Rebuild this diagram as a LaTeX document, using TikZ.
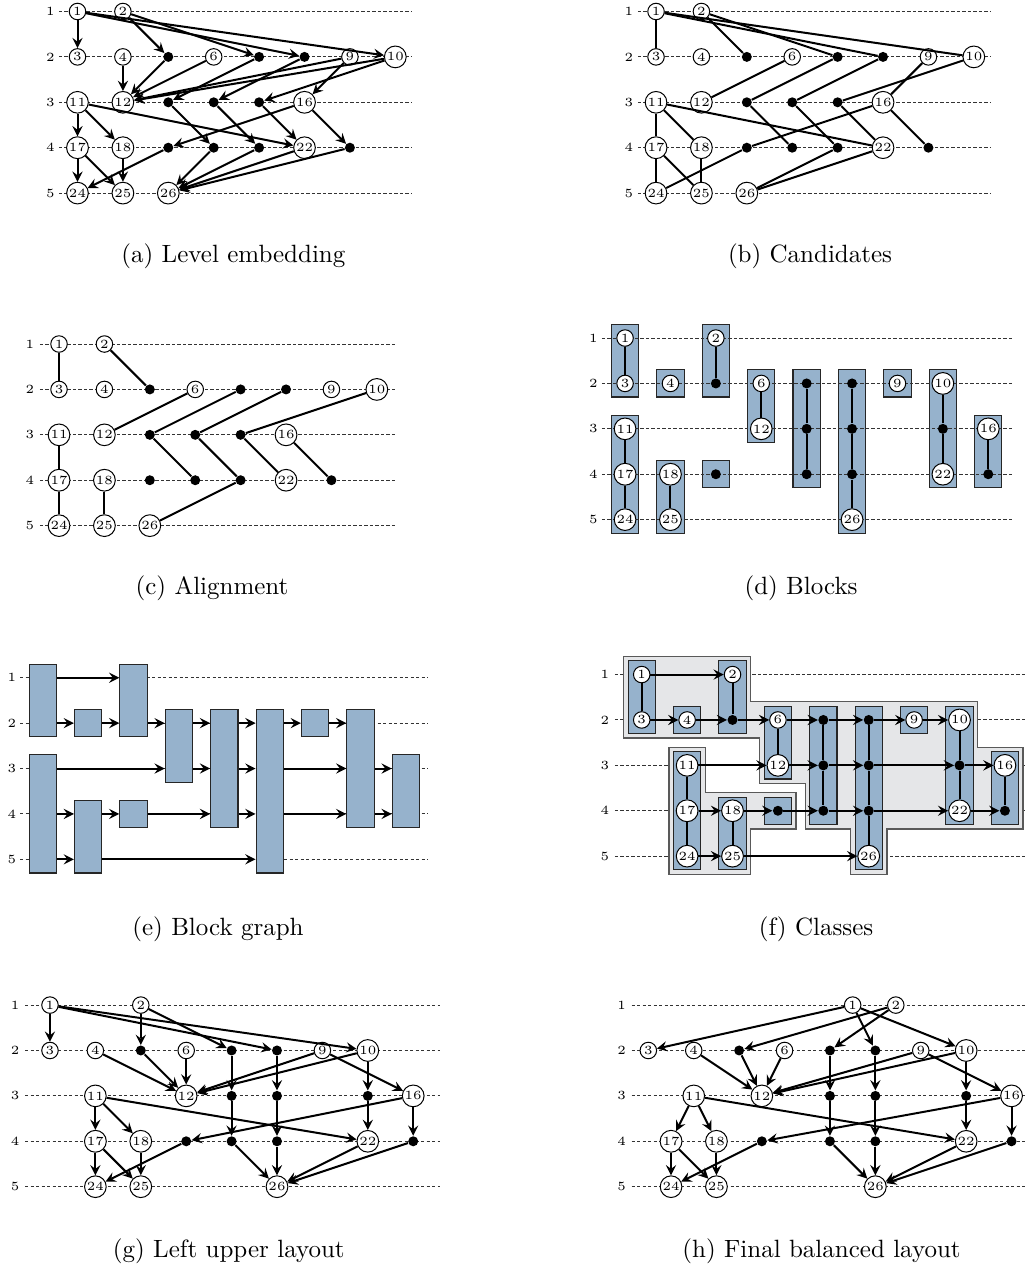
\documentclass[tikz,border=0pt]{standalone}
\usepackage{amsmath,amssymb}
\usetikzlibrary{arrows}

\definecolor{blockblue}{RGB}{150,178,204}
\definecolor{classgray}{RGB}{229,230,232}

\tikzset{
  vtx/.style={circle, draw, fill=white, line width=0.4pt, inner sep=0.4pt, minimum size=6.6pt, font=\tiny},
  dummy/.style={circle, fill=black, inner sep=0pt, minimum size=4pt},
  lvl/.style={font=\tiny, inner sep=0pt},
  lvlline/.style={black!80, line width=0.4pt, dash pattern=on 1.3pt off 0.9pt},
  edge/.style={line width=0.8pt},
  blockbox/.style={draw=black!85, fill=blockblue, line width=0.45pt, inner sep=0pt, minimum width=10.9pt},
  classbox/.style={draw=black!65, fill=classgray, line width=0.5pt},
  caption/.style={font=\normalsize, anchor=base}
}

% dashed level lines with their numbers
\newcommand{\levellines}[4]{%
  \foreach \lv in {1,...,5} {
    \draw[lvlline] (#3,\lv) -- (#4,\lv);
    \node[lvl] (#1L\lv) at (#2,\lv) {\lv};
  }}

% vertices and dummy vertices of one layout
\newcommand{\placenodes}[3]{%
  \foreach \nm/\cx/\lv in #2 \node[vtx] (#1\nm) at (\cx,\lv) {\nm};
  \foreach \nm/\cx/\lv in #3 \node[dummy] (#1\nm) at (\cx,\lv) {};}

% one block: name, column, top level, bottom level
\newcommand{\blockat}[4]{%
  \node[blockbox, minimum height={(#4-#3+0.6)*18.16pt}] (#1) at (#2,{(#3+#4)/2}) {};}

% positions
\newcommand{\embedreal}{1/0/1, 2/1/1, 3/0/2, 4/1/2, 6/3/2, 9/6/2, 10/7/2, 11/0/3, 12/1/3, 16/5/3, 17/0/4, 18/1/4, 22/5/4, 24/0/5, 25/1/5, 26/2/5}
\newcommand{\embeddummy}{A2/2/2, B2/4/2, C2/5/2, B3/2/3, C3/3/3, F3/4/3, G4/2/4, B4/3/4, C4/4/4, J4/6/4}
\newcommand{\blockreal}{1/0/1, 2/2/1, 3/0/2, 4/1/2, 6/3/2, 9/6/2, 10/7/2, 11/0/3, 12/3/3, 16/8/3, 17/0/4, 18/1/4, 22/7/4, 24/0/5, 25/1/5, 26/5/5}
\newcommand{\blockdummy}{A2/2/2, B2/4/2, C2/5/2, B3/4/3, C3/5/3, F3/7/3, G4/2/4, B4/4/4, C4/5/4, J4/8/4}
\newcommand{\classreal}{1/0/1, 2/2/1, 3/0/2, 4/1/2, 6/3/2, 9/6/2, 10/7/2, 11/1/3, 12/3/3, 16/8/3, 17/1/4, 18/2/4, 22/7/4, 24/1/5, 25/2/5, 26/5/5}
\newcommand{\classdummy}{A2/2/2, B2/4/2, C2/5/2, B3/4/3, C3/5/3, F3/7/3, G4/3/4, B4/4/4, C4/5/4, J4/8/4}
\newcommand{\finalreal}{1/4.5/1, 2/5.45/1, 3/0/2, 4/1/2, 6/3/2, 9/6/2, 10/7/2, 11/1/3, 12/2.5/3, 16/8/3, 17/0.5/4, 18/1.5/4, 22/7/4, 24/0.5/5, 25/1.5/5, 26/5/5}
\newcommand{\finaldummy}{A2/2/2, B2/4/2, C2/5/2, B3/4/3, C3/5/3, F3/7/3, G4/2.5/4, B4/4/4, C4/5/4, J4/8/4}

% edges
\newcommand{\alledges}{1/3, 1/C2, 1/10, 2/A2, 2/B2, A2/12, 4/12, 6/12, 9/12, 10/12, B2/B3, C2/C3, 10/F3, 9/16, 11/17, 11/18, 11/22, B3/B4, C3/C4, F3/22, 16/G4, 16/J4, 17/24, 17/25, 18/25, G4/24, B4/26, C4/26, 22/26, J4/26}
\newcommand{\candidates}{1/3, 1/C2, 1/10, 2/A2, 2/B2, 6/12, B2/B3, C2/C3, 10/F3, 9/16, 11/17, 11/18, 11/22, B3/B4, C3/C4, F3/22, 16/G4, 16/J4, 17/24, 17/25, 18/25, G4/24, C4/26, 22/26}
\newcommand{\alignedges}{1/3, 2/A2, 6/12, B2/B3, B3/B4, C2/C3, C3/C4, C4/26, 10/F3, F3/22, 16/J4, 11/17, 17/24, 18/25}
\newcommand{\chains}{1/2, 3/4, 4/A2, A2/6, 6/B2, B2/C2, C2/9, 9/10, 11/12, 12/B3, B3/C3, C3/F3, F3/16, 17/18, 18/G4, G4/B4, B4/C4, C4/22, 22/J4, 24/25, 25/26}

\begin{document}
\begin{tikzpicture}[x=18.16pt, y=-18.16pt, >=stealth]

    \useasboundingbox (0,0) rectangle (22.6,27.95);

    % (a) level embedding
    \begin{scope}[shift={(1.707,-0.747)}]
        \levellines{a}{-0.6}{-0.41}{7.37}
        \placenodes{a}{\embedreal}{\embeddummy}
        \foreach \src/\tgt in \alledges \draw[edge,->] (a\src) -- (a\tgt);
    \end{scope}

    % (b) candidates
    \begin{scope}[shift={(14.449,-0.747)}]
        \levellines{b}{-0.6}{-0.4}{7.38}
        \placenodes{b}{\embedreal}{\embeddummy}
        \foreach \src/\tgt in \candidates \draw[edge] (b\src) -- (b\tgt);
    \end{scope}

    % (c) alignment
    \begin{scope}[shift={(1.3,6.577)}]
        \levellines{c}{-0.64}{-0.42}{7.4}
        \placenodes{c}{\embedreal}{\embeddummy}
        \foreach \src/\tgt in \alignedges \draw[edge] (c\src) -- (c\tgt);
    \end{scope}

    % (d) blocks
    \begin{scope}[shift={(13.767,6.445)}]
        \foreach \nm/\cx/\lvtop/\lvbot in {1/0/1/2, 11/0/3/5, 4/1/2/2, 18/1/4/5, 2/2/1/2, G/2/4/4, 6/3/2/3, B/4/2/4, C/5/2/5, 9/6/2/2, 10/7/2/4, 16/8/3/4}
            {\blockat{dblk\nm}{\cx}{\lvtop}{\lvbot}}
        \levellines{d}{-0.7}{-0.51}{8.52}
        \placenodes{d}{\blockreal}{\blockdummy}
        \foreach \src/\tgt in \alignedges \draw[edge] (d\src) -- (d\tgt);
    \end{scope}

    % (e) block graph
    \begin{scope}[shift={(0.941,13.927)}]
        \levellines{e}{-0.68}{-0.5}{8.49}
        \foreach \nm/\cx/\lvtop/\lvbot in {1/0/1/2, 11/0/3/5, 4/1/2/2, 18/1/4/5, 2/2/1/2, G/2/4/4, 6/3/2/3, B/4/2/4, C/5/2/5, 9/6/2/2, 10/7/2/4, 16/8/3/4}
            {\blockat{eblk\nm}{\cx}{\lvtop}{\lvbot}}
        \foreach \src/\tgt/\lv in {1/2/1, 1/4/2, 4/2/2, 2/6/2, 6/B/2, B/C/2, C/9/2, 9/10/2,
                11/6/3, 6/B/3, B/C/3, C/10/3, 10/16/3,
                11/18/4, 18/G/4, G/B/4, B/C/4, C/10/4, 10/16/4,
                11/18/5, 18/C/5}
            \draw[edge,->] (eblk\src.east |- eL\lv) -- (eblk\tgt.west |- eL\lv);
    \end{scope}

    % (f) classes
    \begin{scope}[shift={(14.134,13.857)}]
        \levellines{f}{-0.81}{-0.59}{8.44}
        \draw[classbox] (-0.4,0.6) -- (2.4,0.6) -- (2.4,1.6) -- (7.4,1.6) -- (7.4,2.6) -- (8.4,2.6)
            -- (8.4,4.4) -- (5.4,4.4) -- (5.4,5.4) -- (4.6,5.4) -- (4.6,4.4) -- (3.6,4.4)
            -- (3.6,3.4) -- (2.6,3.4) -- (2.6,2.4) -- (-0.4,2.4) -- cycle;
        \draw[classbox] (0.6,2.6) -- (1.4,2.6) -- (1.4,3.6) -- (3.4,3.6) -- (3.4,4.4)
            -- (2.4,4.4) -- (2.4,5.4) -- (0.6,5.4) -- cycle;
        \foreach \nm/\cx/\lvtop/\lvbot in {1/0/1/2, 11/1/3/5, 4/1/2/2, 18/2/4/5, 2/2/1/2, G/3/4/4, 6/3/2/3, B/4/2/4, C/5/2/5, 9/6/2/2, 10/7/2/4, 16/8/3/4}
            {\blockat{fblk\nm}{\cx}{\lvtop}{\lvbot}}
        \placenodes{f}{\classreal}{\classdummy}
        \foreach \src/\tgt in \alignedges \draw[edge] (f\src) -- (f\tgt);
        \foreach \src/\tgt in \chains \draw[edge,->] (f\src) -- (f\tgt);
    \end{scope}

    % (g) left upper layout
    \begin{scope}[shift={(1.101,21.137)}]
        \levellines{g}{-0.77}{-0.55}{8.59}
        \placenodes{g}{\classreal}{\classdummy}
        \foreach \src/\tgt in \alledges \draw[edge,->] (g\src) -- (g\tgt);
    \end{scope}

    % (h) final balanced layout
    \begin{scope}[shift={(14.28,21.137)}]
        \levellines{h}{-0.59}{-0.37}{8.31}
        \placenodes{h}{\finalreal}{\finaldummy}
        \foreach \src/\tgt in \alledges \draw[edge,->] (h\src) -- (h\tgt);
    \end{scope}

    % sub-captions
    \node[caption] (capa) at (5.141,5.79) {(a) Level embedding};
    \node[caption] (capb) at (17.841,5.79) {(b) Candidates};
    \node[caption] (capc) at (4.67,13.1) {(c) Alignment};
    \node[caption] (capd) at (17.643,13.1) {(d) Blocks};
    \node[caption] (cape) at (4.802,20.61) {(e) Block graph};
    \node[caption] (capf) at (17.974,20.61) {(f) Classes};
    \node[caption] (capg) at (5.04,27.7) {(g) Left upper layout};
    \node[caption] (caph) at (18.095,27.7) {(h) Final balanced layout};

\end{tikzpicture}
\end{document}
